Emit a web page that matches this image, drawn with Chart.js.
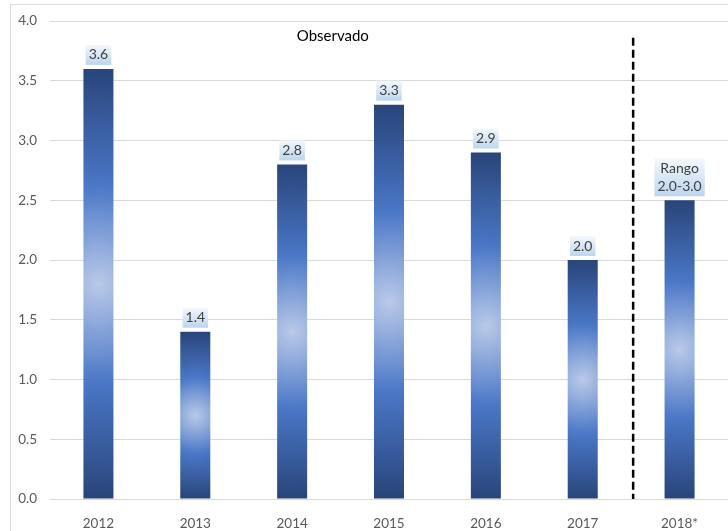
<!DOCTYPE html>
<html>
<head>
<meta charset="utf-8">
<script src="https://cdn.jsdelivr.net/npm/chart.js@4"></script>
<style>
  html, body { margin: 0; padding: 0; background: #fff; }
  #wrap { width: 728px; height: 531px; }
</style>
</head>
<body>
<div id="wrap"><canvas id="myChart"></canvas></div>
<script>
// Crecimiento observado y rango esperado
const years = ['2012', '2013', '2014', '2015', '2016', '2017', '2018*'];
const values = [3.6, 1.4, 2.8, 3.3, 2.9, 2.0, 2.5];
const valueLabels = [['3.6'], ['1.4'], ['2.8'], ['3.3'], ['2.9'], ['2.0'], ['Rango', '2.0-3.0']];
const yTicks = [0, 0.5, 1, 1.5, 2, 2.5, 3, 3.5, 4];

const fontFamily = 'Lato, "Open Sans", sans-serif';
Chart.defaults.font.family = fontFamily;
Chart.defaults.font.size = 13.5;
Chart.defaults.color = '#595959';

// radial fill per bar: light centre, blue ring, dark ends
function barFill(context) {
    const chart = context.chart;
    if (!chart.chartArea || context.type !== 'data') return '#4472c4';
    const x = chart.scales.x.getPixelForValue(context.dataIndex);
    const top = chart.scales.y.getPixelForValue(values[context.dataIndex]);
    const bottom = chart.scales.y.getPixelForValue(0);
    const cy = (top + bottom) / 2;
    const r = Math.max((bottom - top) / 2, 1);
    const g = chart.ctx.createRadialGradient(x, cy, 0, x, cy, r);
    g.addColorStop(0, '#b9c9e8');
    g.addColorStop(0.46, '#4a77c7');
    g.addColorStop(1, '#29457a');
    return g;
}

// frame, dashed divider and "Observado" note
const decorations = {
    id: 'decorations',
    beforeDraw(chart) {
        const ctx = chart.ctx;
        ctx.save();
        ctx.strokeStyle = '#d9d9d9';
        ctx.lineWidth = 1;
        ctx.strokeRect(10.5, 4.5, chart.width + 20, chart.height + 20);
        ctx.restore();
    },
    afterDatasetsDraw(chart) {
        const ctx = chart.ctx;
        const xs = chart.scales.x;
        const ys = chart.scales.y;
        const xDiv = (xs.getPixelForValue(5) + xs.getPixelForValue(6)) / 2 + 2;
        ctx.save();
        ctx.strokeStyle = '#000';
        ctx.lineWidth = 2.5;
        ctx.setLineDash([8, 4]);
        ctx.beginPath();
        ctx.moveTo(xDiv, ys.getPixelForValue(3.86));
        ctx.lineTo(xDiv, ys.getPixelForValue(0));
        ctx.stroke();
        ctx.setLineDash([]);

        ctx.fillStyle = '#000';
        ctx.font = '15px ' + fontFamily;
        ctx.textAlign = 'center';
        ctx.textBaseline = 'middle';
        ctx.fillText('Observado', xs.getPixelForValue(2.42), ys.getPixelForValue(3.87));

        // value boxes above each bar
        const meta = chart.getDatasetMeta(0);
        ctx.font = '14px ' + fontFamily;
        meta.data.forEach((bar, i) => {
            const lines = valueLabels[i];
            let w = 0;
            lines.forEach(t => { w = Math.max(w, ctx.measureText(t).width); });
            w += 6;
            const lh = 18;
            const h = lines.length * lh + 2;
            const bx = bar.x - w / 2;
            const by = bar.y - 4 - h;
            const g = ctx.createLinearGradient(0, by, 0, by + h);
            g.addColorStop(0, '#f4f8fd');
            g.addColorStop(1, '#bcd5ee');
            ctx.fillStyle = g;
            ctx.fillRect(bx, by, w, h);
            ctx.fillStyle = '#404040';
            lines.forEach((t, k) => {
                ctx.fillText(t, bar.x, by + 1 + lh * k + lh / 2);
            });
        });
        ctx.restore();
    }
};

new Chart(document.getElementById('myChart'), {
    type: 'bar',
    data: {
        labels: years,
        datasets: [{
            label: 'Crecimiento',
            data: values,
            backgroundColor: barFill,
            borderWidth: 0,
            categoryPercentage: 1,
            barPercentage: 0.31
        }]
    },
    options: {
        responsive: true,
        maintainAspectRatio: false,
        animation: false,
        layout: { padding: { top: 16, right: 0, bottom: 0, left: 0 } },
        plugins: {
            legend: { display: false },
            tooltip: { enabled: false }
        },
        scales: {
            x: {
                grid: { display: false },
                border: { display: false },
                ticks: { padding: 9 },
                afterFit(scale) { scale.height = 32; }
            },
            y: {
                min: 0,
                max: 4,
                afterBuildTicks(scale) { scale.ticks = yTicks.map(v => ({ value: v })); },
                ticks: {
                    padding: 13,
                    callback: v => v.toFixed(1)
                },
                grid: { color: '#d9d9d9', drawTicks: false },
                border: { display: false },
                afterFit(scale) { scale.width = 50; }
            }
        }
    },
    plugins: [decorations]
});
</script>
</body>
</html>
